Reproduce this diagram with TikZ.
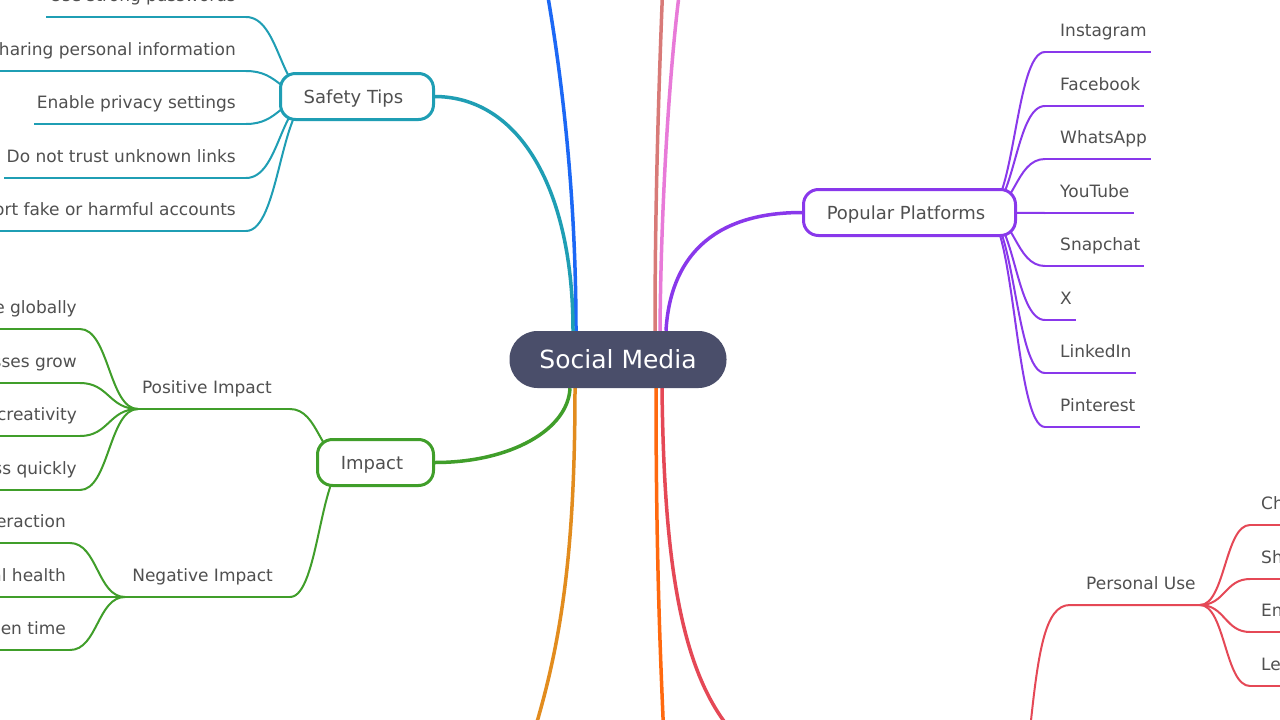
\documentclass[tikz,border=0pt]{standalone}
\usepackage{fontspec}
\setmainfont{DejaVu Sans}
\usetikzlibrary{calc}
\pgfdeclarelayer{bg}
\pgfsetlayers{bg,main}
\definecolor{cRoot}{RGB}{74,78,106}
\definecolor{cText}{RGB}{80,80,80}
\definecolor{cTeal}{RGB}{31,158,180}
\definecolor{cBlue}{RGB}{28,104,245}
\definecolor{cGreen}{RGB}{64,158,42}
\definecolor{cPurple}{RGB}{137,56,235}
\definecolor{cRed}{RGB}{229,72,86}
\definecolor{cOrange}{RGB}{226,140,30}
\definecolor{cOrRed}{RGB}{255,105,15}
\definecolor{cRosy}{RGB}{216,122,120}
\definecolor{cPink}{RGB}{232,122,216}
\tikzset{
  leaf/.style={inner sep=0pt, text=cText, font=\fontsize{17}{20}\selectfont},
  box/.style={draw, line width=3pt, rounded corners=15pt, fill=white, minimum height=46pt, inner sep=0pt, text=cText, font=\fontsize{18}{21}\selectfont},
  rootbox/.style={fill=cRoot, rounded corners=28pt, minimum width=217pt, minimum height=57pt, inner sep=0pt, text=white, font=\fontsize{25}{30}\selectfont},
  trunk/.style={line width=3.5pt},
  twig/.style={line width=2pt},
}
% S-shaped connector between two named points
\newcommand\scurve[3]{\draw[#1] let \p1=(#2), \p2=(#3) in (\p1) .. controls ({(\x1+\x2)/2},\y1) and ({(\x1+\x2)/2},\y2) .. (\p2);}
% box label, baseline set below the box centre
\newcommand\boxlabel[1]{\raisebox{-7pt}[0pt][0pt]{#1}\hspace*{7pt}}
% leaf on the right: #1 colour, #2 name, #3 junction, #4 corner x, #5 line y, #6 text x, #7 text
\newcommand\leafR[7]{%
  \coordinate (#2C) at (#4,#5);
  \node[leaf, anchor=base west] (#2) at (#6,#5-15.5) {#7};
  \begin{pgfonlayer}{bg}
    \scurve{twig,#1}{#3}{#2C}
    \draw[twig,#1] (#2C) -- ([xshift=4pt]#2.east |- #2C);
  \end{pgfonlayer}}
% leaf on the left
\newcommand\leafL[7]{%
  \coordinate (#2C) at (#4,#5);
  \node[leaf, anchor=base east] (#2) at (#6,#5-15.5) {#7};
  \begin{pgfonlayer}{bg}
    \scurve{twig,#1}{#3}{#2C}
    \draw[twig,#1] (#2C) -- ([xshift=-3pt]#2.west |- #2C);
  \end{pgfonlayer}}
\begin{document}
\begin{tikzpicture}[x=1pt,y=-1pt]
\useasboundingbox (0,0) rectangle (1280,720);
\begin{pgfonlayer}{bg}
  \fill[white] (0,0) rectangle (1280,720);
\end{pgfonlayer}

% root and main boxes
\node[rootbox] (root) at (618,359.5) {Social Media};
\node[box, draw=cTeal, minimum width=153pt] (safety) at (357,96.5) {\boxlabel{Safety Tips}};
\node[box, draw=cPurple, minimum width=212pt] (pp) at (909.5,212.5) {\boxlabel{Popular Platforms}};
\node[box, draw=cGreen, minimum width=116pt] (impact) at (375.5,462.5) {\boxlabel{Impact}};

% off-screen ends
\coordinate (blueEnd) at (545,-20);
\coordinate (rosyEnd) at (663,-20);
\coordinate (pinkEnd) at (681,-20);
\coordinate (orEnd) at (530,745);
\coordinate (orrEnd) at (664,740);
\coordinate (redEnd) at (740,740);
\coordinate (puParent) at (1029,740);

% hidden junctions inside boxes
\coordinate (sJ) at (314,97);
\coordinate (pJ) at (985,212.5);
\coordinate (iJ) at (349,462);

\begin{pgfonlayer}{bg}
  \draw[trunk,cBlue] ([xshift=-42pt]root.north) .. controls (576,200) and (563,80) .. (blueEnd);
  \draw[trunk,cTeal] ([xshift=-45pt]root.north) .. controls (573,190) and (520,97) .. (safety.east);
  \draw[trunk,cRosy] ([xshift=37pt]root.north) .. controls (655,200) and (659,80) .. (rosyEnd);
  \draw[trunk,cPink] ([xshift=42pt]root.north) .. controls (661,200) and (670,60) .. (pinkEnd);
  \draw[trunk,cPurple] ([xshift=48pt]root.north) .. controls (670,260) and (710,212.5) .. (pp.west);
  \draw[trunk,cGreen] ([xshift=-48pt]root.south) .. controls (568,430) and (510,462.5) .. (impact.east);
  \draw[trunk,cOrange] ([xshift=-43pt]root.south) .. controls (575,560) and (560,650) .. (orEnd);
  \draw[trunk,cOrRed] ([xshift=38pt]root.south) .. controls (656,550) and (660,650) .. (orrEnd);
  \draw[trunk,cRed] ([xshift=44pt]root.south) .. controls (664,560) and (680,680) .. (redEnd);
\end{pgfonlayer}

% Safety tips leaves
\leafL{cTeal}{s1}{sJ}{246}{17}{236}{Use strong passwords}
\leafL{cTeal}{s2}{sJ}{246}{71}{236}{haring personal information}
\leafL{cTeal}{s3}{sJ}{246}{124}{236}{Enable privacy settings}
\leafL{cTeal}{s4}{sJ}{246}{178}{236}{Do not trust unknown links}
\leafL{cTeal}{s5}{sJ}{246}{231}{236}{ort fake or harmful accounts}

% Popular platforms leaves
\leafR{cPurple}{p1}{pJ}{1045}{52}{1060}{Instagram}
\leafR{cPurple}{p2}{pJ}{1045}{106}{1060}{Facebook}
\leafR{cPurple}{p3}{pJ}{1045}{159}{1060}{WhatsApp}
\leafR{cPurple}{p4}{pJ}{1045}{213}{1060}{YouTube}
\leafR{cPurple}{p5}{pJ}{1045}{266}{1060}{Snapchat}
\leafR{cPurple}{p6}{pJ}{1045}{320}{1060}{X}
\leafR{cPurple}{p7}{pJ}{1045}{373}{1060}{LinkedIn}
\leafR{cPurple}{p8}{pJ}{1045}{427}{1060}{Pinterest}

% Impact sub-branches
\coordinate (posJ) at (138,409);
\coordinate (posC) at (290,409);
\coordinate (negJ) at (125,597);
\coordinate (negC) at (290,597);
\node[leaf, anchor=base east] (posT) at (272,393) {Positive Impact};
\node[leaf, anchor=base east] (negT) at (273,581) {Negative Impact};
\begin{pgfonlayer}{bg}
  \scurve{twig,cGreen}{posC}{iJ}
  \draw[twig,cGreen] (posJ) -- (posC);
  \scurve{twig,cGreen}{negC}{iJ}
  \draw[twig,cGreen] (negJ) -- (negC);
\end{pgfonlayer}
\leafL{cGreen}{g1}{posJ}{80}{329}{77}{e globally}
\leafL{cGreen}{g2}{posJ}{80}{383}{77}{sses grow}
\leafL{cGreen}{g3}{posJ}{80}{436}{77}{creativity}
\leafL{cGreen}{g4}{posJ}{80}{490}{77}{ss quickly}
\leafL{cGreen}{n1}{negJ}{70}{543}{66}{eraction}
\leafL{cGreen}{n2}{negJ}{70}{597}{66}{al health}
\leafL{cGreen}{n3}{negJ}{70}{650}{66}{een time}

% Personal use
\coordinate (puC) at (1070,605);
\coordinate (puJ) at (1200,605);
\node[leaf, anchor=base west] (puT) at (1086,589) {Personal Use};
\begin{pgfonlayer}{bg}
  \draw[twig,cRed] (puParent) .. controls (1038,650) and (1045,605) .. (puC) -- (puJ);
\end{pgfonlayer}
\leafR{cRed}{u1}{puJ}{1250}{525}{1261}{Ch}
\leafR{cRed}{u2}{puJ}{1250}{579}{1261}{Sh}
\leafR{cRed}{u3}{puJ}{1250}{632}{1261}{En}
\leafR{cRed}{u4}{puJ}{1250}{686}{1261}{Le}
\end{tikzpicture}
\end{document}
